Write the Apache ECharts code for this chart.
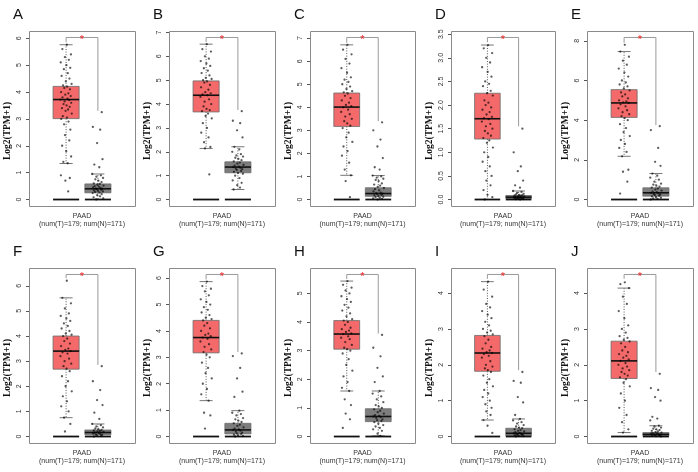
<!DOCTYPE html>
<html>
<head>
<meta charset="utf-8">
<script src="https://cdn.jsdelivr.net/npm/echarts@6/dist/echarts.min.js"></script>
<style>html,body{margin:0;padding:0;background:#fff}#c{width:698px;height:472px}</style>
</head>
<body>
<div id="c"></div>
<script>
// ---------------- DATA ----------------
const PANEL_LABELS = ['A','B','C','D','E','F','G','H','I','J'];
const CATEGORY = 'PAAD';
const SAMPLE_NOTE = '(num(T)=179; num(N)=171)';
const Y_TITLE = 'Log2(TPM+1)';
const Y_TICK_MAX = [6, 7, 7, 3.5, 8, 6, 6, 5, 4, 4];
const Y_TICK_STEP = [1, 1, 1, 0.5, 2, 1, 1, 1, 1, 1];
// [lower whisker, Q1, median, Q3, upper whisker]
const TUMOR_BOX = [
  [1.34, 3.01, 3.72, 4.21, 5.76],
  [2.14, 3.67, 4.37, 4.97, 6.51],
  [1.05, 3.17, 4.01, 4.62, 6.71],
  [0.00, 1.28, 1.71, 2.25, 3.27],
  [2.18, 4.14, 4.87, 5.54, 7.46],
  [0.75, 2.68, 3.40, 4.00, 5.52],
  [1.36, 3.17, 3.75, 4.40, 5.87],
  [1.59, 3.05, 3.58, 4.05, 5.43],
  [0.46, 1.82, 2.33, 2.82, 4.32],
  [0.11, 1.62, 2.11, 2.66, 4.14]
];
const NORMAL_BOX = [
  [0.00, 0.25, 0.40, 0.58, 0.95],
  [0.42, 1.12, 1.36, 1.58, 2.21],
  [0.00, 0.14, 0.26, 0.51, 1.04],
  [0.00, 0.02, 0.05, 0.085, 0.18],
  [0.00, 0.17, 0.34, 0.59, 1.31],
  [0.00, 0.07, 0.16, 0.26, 0.50],
  [0.00, 0.10, 0.25, 0.50, 0.98],
  [0.02, 0.52, 0.70, 0.97, 1.59],
  [0.00, 0.02, 0.09, 0.23, 0.49],
  [0.00, 0.02, 0.06, 0.11, 0.30]
];
// significance bracket: [top, left end, right end]
const BRACKET = [
  [6.03, 5.85, 3.30],
  [6.79, 6.60, 3.75],
  [7.03, 6.80, 3.40],
  [3.43, 3.33, 1.55],
  [8.17, 7.90, 3.75],
  [6.45, 6.30, 2.85],
  [6.14, 5.95, 3.20],
  [5.66, 5.50, 3.60],
  [4.52, 4.40, 1.85],
  [4.52, 4.40, 1.80]
];
const SIG_MARK = '*';

// individual sample values (tumor T_, normal N_)
const T_A = [5.76,5.6,5.4,5.3,5.2,5.1,5.0,4.9,4.85,4.7,4.6,4.5,4.4,4.3,4.25,4.2,4.15,4.1,4.0,3.95,3.9,3.85,3.8,3.75,3.72,3.7,3.65,3.6,3.55,3.5,3.45,3.4,3.35,3.3,3.2,3.1,3.05,3.0,2.9,2.8,2.6,2.4,2.2,2.0,1.8,1.6,1.4,1.35,0.9,0.8,0.7,0.3];
const N_A = [3.25,2.7,2.6,2.1,1.5,1.3,1.2,0.95,0.9,0.85,0.8,0.75,0.7,0.65,0.6,0.58,0.55,0.52,0.5,0.48,0.45,0.43,0.41,0.4,0.38,0.36,0.34,0.32,0.3,0.28,0.26,0.24,0.2,0.16,0.12,0.08,0.04,0.0];
const T_B = [6.51,6.3,6.2,6.0,5.9,5.8,5.7,5.6,5.5,5.4,5.3,5.2,5.1,5.05,5.0,4.95,4.9,4.8,4.7,4.6,4.5,4.45,4.4,4.37,4.3,4.2,4.1,4.0,3.9,3.8,3.75,3.7,3.6,3.5,3.4,3.2,3.0,2.8,2.6,2.4,2.2,2.14,1.05];
const N_B = [3.7,3.3,3.2,2.9,2.6,2.21,2.1,2.0,1.9,1.85,1.8,1.75,1.7,1.65,1.6,1.55,1.5,1.45,1.42,1.38,1.36,1.33,1.3,1.27,1.24,1.2,1.16,1.12,1.08,1.0,0.9,0.8,0.7,0.6,0.5,0.42];
const T_C = [6.71,6.5,6.3,6.1,5.9,5.7,5.5,5.3,5.2,5.1,5.0,4.9,4.8,4.7,4.65,4.6,4.5,4.4,4.3,4.2,4.1,4.05,4.0,3.9,3.8,3.7,3.6,3.5,3.4,3.3,3.2,3.1,2.9,2.7,2.5,2.3,2.1,1.9,1.6,1.3,1.05,0.8,0.1];
const N_C = [3.35,3.0,2.6,2.3,1.8,1.4,1.3,1.04,1.0,0.95,0.9,0.85,0.8,0.7,0.65,0.6,0.55,0.5,0.45,0.4,0.35,0.3,0.28,0.26,0.24,0.2,0.18,0.15,0.12,0.1,0.07,0.05,0.03,0.0];
const T_D = [3.27,3.2,3.1,3.0,2.9,2.8,2.7,2.6,2.5,2.45,2.4,2.3,2.25,2.2,2.1,2.05,2.0,1.95,1.9,1.85,1.8,1.75,1.72,1.7,1.65,1.6,1.55,1.5,1.45,1.4,1.35,1.3,1.25,1.2,1.1,1.0,0.9,0.8,0.7,0.6,0.5,0.4,0.3,0.2,0.1,0.05,0.0];
const N_D = [1.5,1.0,0.7,0.6,0.4,0.3,0.25,0.18,0.16,0.14,0.12,0.11,0.1,0.09,0.085,0.08,0.07,0.065,0.06,0.055,0.05,0.045,0.04,0.035,0.03,0.025,0.02,0.015,0.01,0.005,0.0];
const T_E = [7.8,7.46,7.2,7.0,6.8,6.6,6.4,6.2,6.0,5.9,5.8,5.7,5.6,5.5,5.4,5.3,5.2,5.1,5.0,4.95,4.9,4.87,4.8,4.7,4.6,4.5,4.4,4.3,4.2,4.1,4.0,3.8,3.6,3.4,3.2,3.0,2.8,2.6,2.4,2.18,1.5,1.4,0.9,0.3];
const N_E = [3.7,3.5,2.6,1.9,1.7,1.31,1.2,1.1,1.0,0.9,0.8,0.75,0.7,0.65,0.6,0.55,0.5,0.45,0.4,0.37,0.34,0.31,0.28,0.25,0.22,0.19,0.16,0.12,0.09,0.06,0.03,0.0];
const T_F = [6.2,5.52,5.3,5.1,4.9,4.8,4.7,4.6,4.5,4.4,4.3,4.2,4.1,4.05,4.0,3.9,3.8,3.7,3.6,3.5,3.45,3.4,3.35,3.3,3.2,3.1,3.0,2.9,2.8,2.7,2.6,2.4,2.2,2.0,1.8,1.6,1.4,1.2,1.0,0.75,0.5,0.2];
const N_F = [2.8,2.2,1.85,1.45,1.25,0.95,0.7,0.5,0.45,0.4,0.36,0.32,0.29,0.26,0.24,0.22,0.2,0.18,0.16,0.14,0.12,0.1,0.08,0.06,0.04,0.02,0.0];
const T_G = [5.87,5.7,5.6,5.5,5.35,5.2,5.1,5.0,4.9,4.8,4.7,4.6,4.5,4.45,4.4,4.3,4.2,4.1,4.0,3.9,3.85,3.8,3.75,3.7,3.6,3.5,3.4,3.3,3.2,3.1,3.0,2.8,2.6,2.4,2.2,2.0,1.8,1.6,1.36,0.9,0.8,0.3];
const N_G = [3.15,3.05,2.6,2.2,1.7,1.5,0.98,0.9,0.85,0.8,0.7,0.65,0.6,0.55,0.5,0.45,0.4,0.35,0.3,0.27,0.25,0.22,0.19,0.15,0.12,0.1,0.07,0.04,0.02,0.0];
const T_H = [5.43,5.3,5.2,5.1,5.0,4.9,4.8,4.7,4.6,4.5,4.4,4.3,4.2,4.1,4.05,4.0,3.9,3.8,3.75,3.7,3.65,3.6,3.58,3.5,3.45,3.4,3.3,3.2,3.1,3.05,3.0,2.9,2.7,2.5,2.3,2.1,1.9,1.7,1.59,1.3,1.1,0.8,0.6,0.3];
const N_H = [3.55,3.1,2.8,2.4,2.1,1.9,1.59,1.5,1.4,1.3,1.2,1.1,1.05,1.0,0.95,0.9,0.85,0.8,0.75,0.72,0.7,0.68,0.65,0.6,0.57,0.54,0.5,0.45,0.4,0.35,0.3,0.25,0.2,0.1,0.02];
const T_I = [4.32,4.1,3.9,3.7,3.6,3.5,3.4,3.3,3.2,3.1,3.0,2.95,2.9,2.85,2.8,2.7,2.6,2.5,2.45,2.4,2.35,2.33,2.3,2.25,2.2,2.1,2.0,1.95,1.9,1.85,1.8,1.7,1.6,1.5,1.4,1.3,1.2,1.1,1.0,0.9,0.8,0.7,0.6,0.46,0.3,0.1];
const N_I = [1.8,1.55,1.5,1.1,0.95,0.6,0.49,0.45,0.4,0.36,0.32,0.28,0.25,0.23,0.2,0.18,0.16,0.14,0.12,0.1,0.09,0.08,0.07,0.06,0.05,0.04,0.03,0.02,0.01,0.0];
const T_J = [4.3,4.25,4.14,3.9,3.7,3.5,3.3,3.1,3.0,2.9,2.8,2.75,2.7,2.65,2.6,2.5,2.4,2.35,2.3,2.25,2.2,2.15,2.11,2.05,2.0,1.95,1.9,1.85,1.8,1.75,1.7,1.65,1.6,1.5,1.4,1.2,1.0,0.8,0.6,0.4,0.2,0.11];
const N_J = [1.75,1.35,1.3,1.1,1.0,0.55,0.5,0.45,0.3,0.28,0.25,0.22,0.2,0.18,0.16,0.14,0.12,0.11,0.1,0.09,0.08,0.07,0.06,0.05,0.04,0.03,0.02,0.01,0.0];
const TUMOR_POINTS = [T_A, T_B, T_C, T_D, T_E, T_F, T_G, T_H, T_I, T_J];
const NORMAL_POINTS = [N_A, N_B, N_C, N_D, N_E, N_F, N_G, N_H, N_I, N_J];
// horizontal jitter of each dot, as a fraction of the jitter half-width
const JITTER = [0.12,-0.64,0.83,-0.21,0.47,-0.92,0.05,0.71,-0.38,0.29,-0.77,0.58,-0.05,0.94,-0.52,0.18,-0.31,0.66,-0.86,0.39,-0.14,0.79,-0.61,0.24,-0.97,0.51,-0.26,0.88,-0.44,0.08,0.62,-0.71,0.33,-0.09,0.97,-0.56,0.15,-0.83,0.42,-0.35,0.73,-0.19,0.55,-0.68,0.02,0.86,-0.47,0.27,-0.89,0.64,-0.12,0.36,-0.74,0.91,-0.29,0.49,-0.58,0.21,-0.95,0.69];

// ---------------- LAYOUT / STYLE ----------------
const COL_LEFT = [29, 169, 310, 451, 587];
const COL_W = [106, 106, 105, 104, 106];
const ROW_TOP = [31, 268];
const FRAME_H = 175;
const POS_T = 0.35, POS_N = 0.65;
const BOX_HALF = 0.123;
const JIT_W = 0.055;
const TUMOR_FILL = '#F46A6A';
const NORMAL_FILL = '#7d7d7d';
const SANS = '"Liberation Sans", Arial, sans-serif';
const SERIF = '"Liberation Serif", "Times New Roman", serif';

function renderBox(params, api) {
  const x = api.value(0);
  const c = v => api.coord([x, v]);
  const pLow = c(api.value(1)), pQ1 = c(api.value(2)), pMed = c(api.value(3)),
        pQ3 = c(api.value(4)), pHigh = c(api.value(5)), p0 = c(0);
  const hw = api.size([BOX_HALF, 0])[0];
  const cx = pMed[0];
  const fill = params.dataIndex === 0 ? TUMOR_FILL : NORMAL_FILL;
  const dash = { stroke: '#555', lineWidth: 1, lineDash: [1, 1.6] };
  const cap = { stroke: '#777', lineWidth: 1 };
  return { type: 'group', children: [
    { type: 'line', shape: { x1: cx, y1: pQ3[1], x2: cx, y2: pHigh[1] }, style: dash },
    { type: 'line', shape: { x1: cx, y1: pQ1[1], x2: cx, y2: pLow[1] }, style: dash },
    { type: 'line', shape: { x1: cx - hw / 2, y1: pHigh[1], x2: cx + hw / 2, y2: pHigh[1] }, style: cap },
    { type: 'line', shape: { x1: cx - hw / 2, y1: pLow[1], x2: cx + hw / 2, y2: pLow[1] }, style: cap },
    { type: 'rect', shape: { x: cx - hw, y: pQ3[1], width: 2 * hw, height: pQ1[1] - pQ3[1] },
      style: { fill: fill, stroke: '#6a6a6a', lineWidth: 0.8 } },
    { type: 'line', shape: { x1: cx - hw, y1: pMed[1], x2: cx + hw, y2: pMed[1] }, style: { stroke: '#111', lineWidth: 1.6 } },
    { type: 'line', shape: { x1: cx - hw, y1: p0[1], x2: cx + hw, y2: p0[1] }, style: { stroke: '#111', lineWidth: 1.8 } }
  ]};
}

function renderBracket(params, api) {
  const top = api.value(0), l = api.value(1), r = api.value(2);
  const a = api.coord([POS_T, l]), b = api.coord([POS_T, top]),
        c = api.coord([POS_N, top]), d = api.coord([POS_N, r]);
  const m = api.coord([0.5, top]);
  return { type: 'group', children: [
    { type: 'polyline', shape: { points: [a, b, c, d] }, style: { stroke: '#9a9a9a', lineWidth: 1, fill: 'none' } },
    { type: 'text', x: m[0], y: m[1] + 2.5, style: { text: SIG_MARK, fill: '#ee2222', fontSize: 11, fontFamily: SANS, align: 'center', verticalAlign: 'middle' } }
  ]};
}

const grids = [], xAxes = [], yAxes = [], series = [], graphics = [];
for (let i = 0; i < PANEL_LABELS.length; i++) {
  const row = Math.floor(i / 5), col = i % 5;
  const left = COL_LEFT[col], w = COL_W[col];
  const fTop = ROW_TOP[row], fBot = fTop + FRAME_H;
  const plotH = FRAME_H / 1.08;
  const zeroY = fBot - 0.04 * plotH;
  const ppu = plotH / BRACKET[i][0];
  const topY = zeroY - Y_TICK_MAX[i] * ppu;
  grids.push({ left: left, width: w, top: topY, height: zeroY - topY });
  xAxes.push({
    gridIndex: i, type: 'category', data: [CATEGORY], position: 'bottom', offset: fBot - zeroY,
    axisLine: { show: false },
    axisTick: { alignWithLabel: true, length: 4, lineStyle: { color: '#444' } },
    axisLabel: { interval: 0, formatter: v => v + '\n' + SAMPLE_NOTE, fontSize: 7, lineHeight: 8,
      color: '#333', margin: 6, fontFamily: SANS }
  });
  xAxes.push({ gridIndex: i, type: 'value', min: 0, max: 1, show: false });
  const step = Y_TICK_STEP[i];
  yAxes.push({
    gridIndex: i, type: 'value', min: 0, max: Y_TICK_MAX[i], interval: step,
    axisLine: { show: true, lineStyle: { color: '#777' } },
    axisTick: { show: true, length: 3, lineStyle: { color: '#555' } },
    splitLine: { show: false },
    axisLabel: { rotate: 90, fontSize: 7, color: '#333', margin: 6, fontFamily: SANS,
      formatter: v => step < 1 ? v.toFixed(1) : String(v) }
  });
  series.push({
    type: 'custom', xAxisIndex: 2 * i + 1, yAxisIndex: i, z: 2, clip: false,
    renderItem: renderBox,
    data: [[POS_T].concat(TUMOR_BOX[i]), [POS_N].concat(NORMAL_BOX[i])]
  });
  series.push({
    type: 'scatter', xAxisIndex: 2 * i + 1, yAxisIndex: i, z: 3, clip: false, silent: true,
    symbolSize: 2.3, itemStyle: { color: 'rgba(0,0,0,0.8)' },
    data: TUMOR_POINTS[i].map((v, k) => [POS_T + JITTER[k % JITTER.length] * JIT_W, v])
  });
  series.push({
    type: 'scatter', xAxisIndex: 2 * i + 1, yAxisIndex: i, z: 3, clip: false, silent: true,
    symbolSize: 2.3, itemStyle: { color: 'rgba(0,0,0,0.8)' },
    data: NORMAL_POINTS[i].map((v, k) => [POS_N + JITTER[(k + 17) % JITTER.length] * JIT_W, v])
  });
  series.push({
    type: 'custom', xAxisIndex: 2 * i + 1, yAxisIndex: i, z: 4, clip: false,
    renderItem: renderBracket, data: [BRACKET[i]]
  });
  graphics.push({
    type: 'rect', z: 100, silent: true,
    shape: { x: left + 0.5, y: fTop + 0.5, width: w, height: FRAME_H },
    style: { fill: 'none', stroke: '#8a8a8a', lineWidth: 1 }
  });
  graphics.push({
    type: 'text', z: 100, x: left - 21, y: fTop + 100, rotation: Math.PI / 2,
    style: { text: Y_TITLE, fontSize: 9.5, fontWeight: 'bold', fontFamily: SERIF, fill: '#111',
      align: 'center', verticalAlign: 'middle' }
  });
  graphics.push({
    type: 'text', z: 100, x: left - 16, y: fTop - 24,
    style: { text: PANEL_LABELS[i], fontSize: 15, fontFamily: SANS, fill: '#111' }
  });
}

const chart = echarts.init(document.getElementById('c'), null, { renderer: 'canvas' });
chart.setOption({
  animation: false,
  backgroundColor: '#fff',
  grid: grids, xAxis: xAxes, yAxis: yAxes, series: series, graphic: graphics
});
</script>
</body>
</html>
